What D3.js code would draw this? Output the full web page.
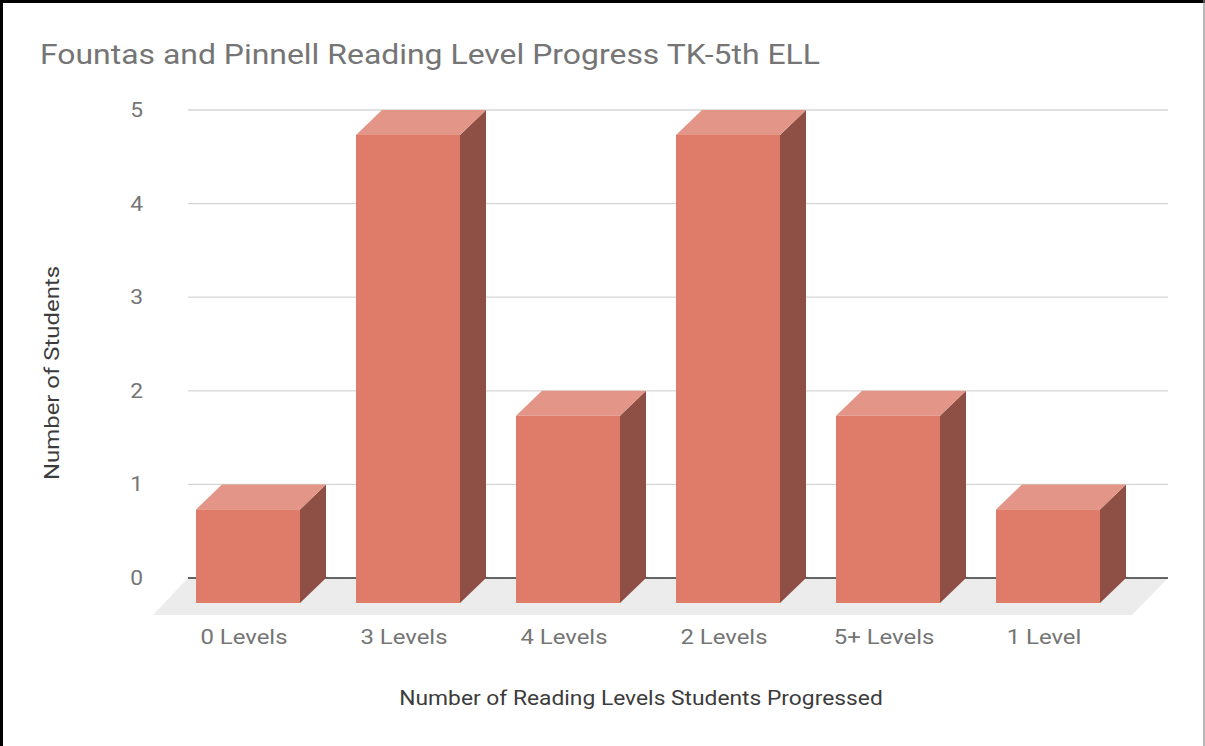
<!DOCTYPE html>
<html>
<head>
<meta charset="utf-8">
<script src="https://cdn.jsdelivr.net/npm/d3@7"></script>
<style>
  html, body { margin: 0; padding: 0; background: #fff; }
  svg { display: block; font-family: Roboto, "Noto Sans", sans-serif; }
</style>
</head>
<body>
<svg id="chart" width="1205" height="746"></svg>
<script>
// Chart data
const categories = ["0 Levels", "3 Levels", "4 Levels", "2 Levels", "5+ Levels", "1 Level"];
const studentCounts = [1, 5, 2, 5, 2, 1];
const yTicks = [0, 1, 2, 3, 4, 5];

const chartTitle = "Fountas and Pinnell Reading Level Progress TK-5th ELL";
const xAxisTitle = "Number of Reading Levels Students Progressed";
const yAxisTitle = "Number of Students";

const colors = {
    front: "#de7b69",
    top: "#e39587",
    side: "#8e5045",
    floor: "#ececec",
    grid: "#d6d6d6",
    zero: "#333333",
    tick: "#757575",
    title: "#757575",
    axisTitle: "#3c3c3c"
};

// 3D depth offsets for bars
const depth = { dx: 26, dy: 25 };
// the source screenshot is a bit wider than tall, so text runs wider
const stretch = 1.14;

const svg = d3.select("#chart");

// frame
svg.append("rect").attr("x", 0).attr("y", 0).attr("width", 1205).attr("height", 746).attr("fill", "#fff");
svg.append("line").attr("x1", 1.5).attr("x2", 1.5).attr("y1", 0).attr("y2", 746)
    .attr("stroke", "#000").attr("stroke-width", 3);
svg.append("line").attr("x1", 0).attr("x2", 1205).attr("y1", 1.5).attr("y2", 1.5)
    .attr("stroke", "#000").attr("stroke-width", 3);
svg.append("line").attr("x1", 1204).attr("x2", 1204).attr("y1", 0).attr("y2", 746)
    .attr("stroke", "#888").attr("stroke-width", 1.2);

// back wall scale (value axis)
const yScale = d3.scaleLinear().domain([0, 5]).range([578, 110]);

// front plane band scale
const xScale = d3.scaleBand()
    .domain(categories)
    .range([164, 1132])
    .paddingInner(0.35)
    .paddingOuter(0.2);

const gridX0 = 188, gridX1 = 1168;

// floor
svg.append("polygon")
    .attr("points", [
        [gridX0, yScale(0)], [gridX1, yScale(0)],
        [gridX1 - 36, yScale(0) + 37], [gridX0 - 35, yScale(0) + 37]
    ].map(p => p.join(",")).join(" "))
    .attr("fill", colors.floor);

// gridlines
svg.append("g")
    .selectAll("line")
    .data(yTicks.filter(d => d !== 0))
    .join("line")
    .attr("x1", gridX0)
    .attr("x2", gridX1)
    .attr("y1", d => yScale(d))
    .attr("y2", d => yScale(d))
    .attr("stroke", colors.grid)
    .attr("stroke-width", 1.3);

// zero line
svg.append("line")
    .attr("x1", gridX0).attr("x2", gridX1)
    .attr("y1", yScale(0)).attr("y2", yScale(0))
    .attr("stroke", colors.zero)
    .attr("stroke-width", 1.5);

// y tick labels
svg.append("g")
    .selectAll("text")
    .data(yTicks)
    .join("text")
    .attr("transform", d => `translate(143,${yScale(d)}) scale(${stretch},1)`)
    .attr("dy", "0.35em")
    .attr("text-anchor", "end")
    .attr("font-size", "20px")
    .attr("fill", colors.tick)
    .text(d => d);

// bars
const bars = svg.append("g")
    .selectAll("g")
    .data(categories.map((c, i) => ({ cat: c, value: studentCounts[i] })))
    .join("g");

const w = xScale.bandwidth();

bars.each(function(d) {
    const g = d3.select(this);
    const x = xScale(d.cat);
    const yTop = yScale(d.value) + depth.dy;
    const yBot = yScale(0) + depth.dy;

    // side face
    g.append("polygon")
        .attr("points", [
            [x + w, yTop], [x + w + depth.dx, yTop - depth.dy],
            [x + w + depth.dx, yBot - depth.dy], [x + w, yBot]
        ].map(p => p.join(",")).join(" "))
        .attr("fill", colors.side);

    // top face
    g.append("polygon")
        .attr("points", [
            [x, yTop], [x + depth.dx, yTop - depth.dy],
            [x + w + depth.dx, yTop - depth.dy], [x + w, yTop]
        ].map(p => p.join(",")).join(" "))
        .attr("fill", colors.top);

    // front face
    g.append("rect")
        .attr("x", x)
        .attr("y", yTop)
        .attr("width", w)
        .attr("height", yBot - yTop)
        .attr("fill", colors.front);
});

// category labels
svg.append("g")
    .selectAll("text")
    .data(categories)
    .join("text")
    .attr("transform", d => `translate(${xScale(d) + w / 2 - 4},637) scale(${stretch},1)`)
    .attr("dy", "0.35em")
    .attr("text-anchor", "middle")
    .attr("font-size", "21px")
    .attr("fill", colors.tick)
    .text(d => d);

// title
svg.append("text")
    .attr("transform", `translate(40,64) scale(${stretch},1)`)
    .attr("font-size", "28px")
    .attr("fill", colors.title)
    .text(chartTitle);

// x axis title
svg.append("text")
    .attr("transform", `translate(641,698) scale(${stretch},1)`)
    .attr("dy", "0.35em")
    .attr("text-anchor", "middle")
    .attr("font-size", "20px")
    .attr("fill", colors.axisTitle)
    .text(xAxisTitle);

// y axis title
svg.append("text")
    .attr("transform", `translate(52,373) rotate(-90) scale(${stretch},1)`)
    .attr("dy", "0.35em")
    .attr("text-anchor", "middle")
    .attr("font-size", "21px")
    .attr("fill", colors.axisTitle)
    .text(yAxisTitle);
</script>
</body>
</html>
